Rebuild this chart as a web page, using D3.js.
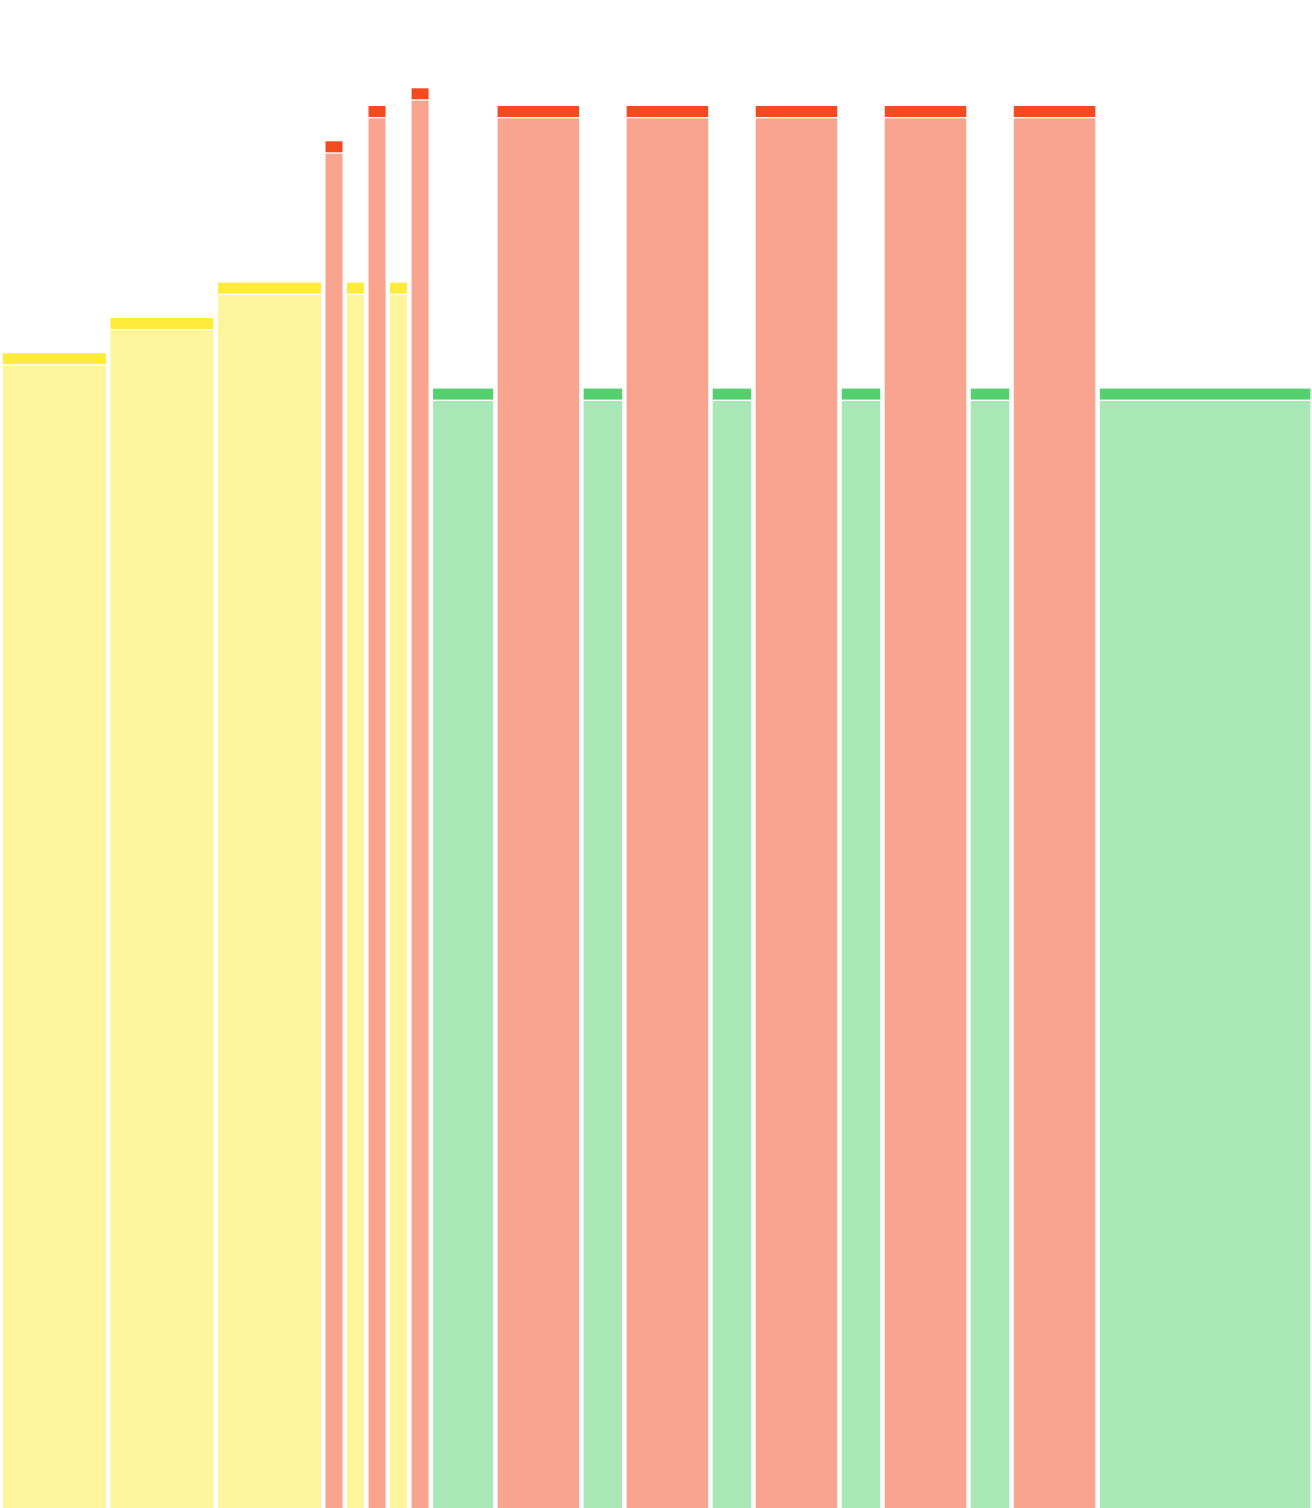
<!DOCTYPE html>
<html>
<head>
<meta charset="utf-8">
<script src="https://cdn.jsdelivr.net/npm/d3@7"></script>
<style>
  html, body { margin: 0; padding: 0; background: #fff; overflow: hidden; }
</style>
</head>
<body>
<script>
// segments, left to right
var groups = ["yellow", "yellow", "yellow", "red", "yellow", "red", "yellow", "red",
              "green", "red", "green", "red", "green", "red", "green", "red", "green", "red", "green"];
var widths = [5, 5, 5, 1, 1, 1, 1, 1, 3, 4, 2, 4, 2, 4, 2, 4, 2, 4, 10];
var values = [33, 34, 35, 39, 35, 40, 35, 40.5, 32, 40, 32, 40, 32, 40, 32, 40, 32, 40, 32];

var w = 1312;
var h = 1508;

var colors = { yellow: "#ffeb3b", red: "#f44a1f", green: "#54d06e" };

// running x position
var segs = [];
var acc = 0;
for (var i = 0; i < widths.length; i++) {
  segs.push({ group: groups[i], x0: acc, x1: acc + widths[i], value: values[i] });
  acc += widths[i];
}

var x = d3.scaleLinear().domain([0, acc]).range([0.4, w + 0.4]);
var y = d3.scaleLinear().domain([0, 43]).range([1519, 0]);

var svg = d3.select("body")
  .append("svg")
  .attr("width", w)
  .attr("height", h);

var capH = 11;
var padL = 2.5;
var padR = 2.0;

var bar = svg.selectAll("g.seg")
  .data(segs)
  .enter()
  .append("g")
  .attr("class", "seg");

// light body
bar.append("rect")
  .attr("x", function(d) { return x(d.x0) + padL; })
  .attr("width", function(d) { return x(d.x1) - x(d.x0) - padL - padR; })
  .attr("y", function(d) { return y(d.value) + capH + 1.4; })
  .attr("height", function(d) { return y(0) - y(d.value) - capH - 1.4; })
  .attr("fill", function(d) { return colors[d.group]; })
  .attr("fill-opacity", 0.5);

// dark cap
bar.append("rect")
  .attr("x", function(d) { return x(d.x0) + padL; })
  .attr("width", function(d) { return x(d.x1) - x(d.x0) - padL - padR; })
  .attr("y", function(d) { return y(d.value); })
  .attr("height", capH)
  .attr("fill", function(d) { return colors[d.group]; });
</script>
</body>
</html>
